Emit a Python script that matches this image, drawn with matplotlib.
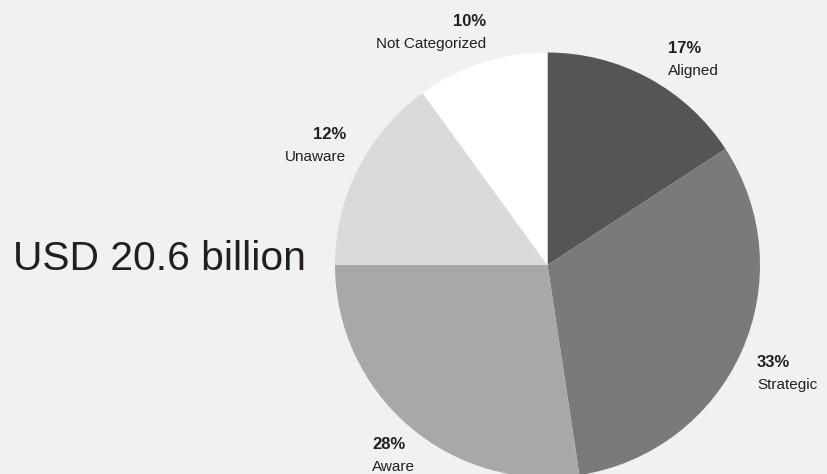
import matplotlib
matplotlib.use("Agg")
import matplotlib.pyplot as plt

# fatias (ordem horaria a partir do topo)
categorias = ["Aligned", "Strategic", "Aware", "Unaware", "Not Categorized"]
rotulos_pct = ["17%", "33%", "28%", "12%", "10%"]
fatias = [15.8, 31.8, 27.4, 15.0, 10.0]
cores = ["#555553", "#7a7a7a", "#a8a8a8", "#dadada", "#ffffff"]
total = "USD 20.6 billion"

plt.rcParams["font.family"] = ["Liberation Sans", "DejaVu Sans"]
fundo = "#f0f1f1"
texto = "#231f20"
W, H = 827, 474

fig = plt.figure(figsize=(8.27, 4.74), dpi=100, facecolor=fundo)
ax = fig.add_axes([0, 0, 1, 1])
ax.set_facecolor(fundo)

# centro e raio em pixels (y medido a partir do topo)
ax.pie(fatias, colors=cores, startangle=90, counterclock=False,
       center=(547.5, H - 265), radius=212.5, frame=True,
       wedgeprops=dict(linewidth=0))
ax.set_xlim(0, W)
ax.set_ylim(0, H)
ax.set_aspect("equal")
ax.axis("off")

# linha de base do percentual (pixels a partir do topo)
posicoes = [(668, 53, "left"), (757, 367, "left"), (372, 449, "left"),
            (346, 139, "right"), (486, 26, "right")]
for cat, pct, (x, y, ha) in zip(categorias, rotulos_pct, posicoes):
    ax.text(x, H - y, pct, ha=ha, va="baseline", fontsize=12, fontweight="bold", color=texto)
    ax.text(x, H - (y + 22), cat, ha=ha, va="baseline", fontsize=11, color=texto)

ax.text(13, H - 270, total, ha="left", va="baseline", fontsize=29.3, color=texto)

fig.savefig("out.png", dpi=100, facecolor=fundo)
